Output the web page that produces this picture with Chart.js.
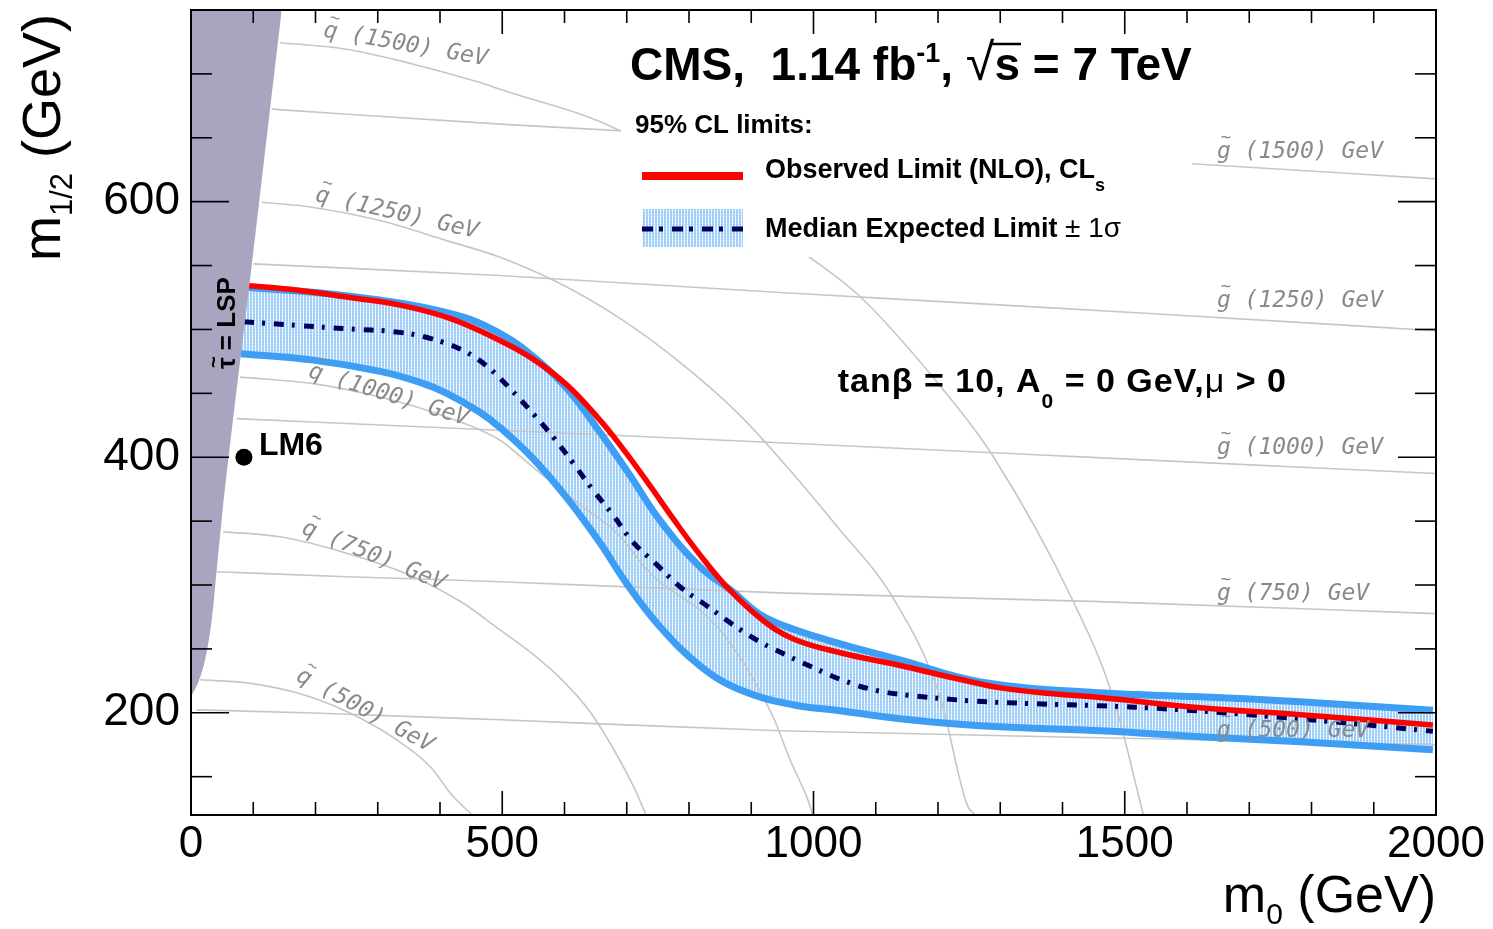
<!DOCTYPE html>
<html>
<head>
<meta charset="utf-8">
<script src="https://cdn.jsdelivr.net/npm/chart.js@4.4.1/dist/chart.umd.min.js"></script>
<style>
  html, body { margin: 0; padding: 0; background: #fff; }
  #wrap { width: 1493px; height: 929px; position: relative; }
</style>
</head>
<body>
<div id="wrap"><canvas id="c"></canvas></div>
<script>
const F = "'Liberation Sans', Arial, Helvetica, sans-serif";
const MONO = "'DejaVu Sans Mono', monospace";

// ---------------- AXES ----------------
const xLabelTicks = [0, 500, 1000, 1500, 2000];
const xMinorTicks = [100, 200, 300, 400, 600, 700, 800, 900, 1100, 1200, 1300, 1400, 1600, 1700, 1800, 1900];
const yLabelTicks = [200, 400, 600];
const yMinorTicks = [150, 250, 300, 350, 450, 500, 550, 650, 700];

// ---------------- LIMIT CURVES (m0, m1/2 in GeV) ----------------
const observedM0  = [85, 175, 255, 336, 416, 496, 549, 604, 657, 694, 737, 774, 818, 861, 914, 967, 1043, 1139, 1236, 1300, 1380, 1460, 1621, 1782, 1995];
const observedM12 = [534.5, 530.5, 525, 519, 508.6, 491.4, 477, 456.5, 429, 406.5, 378, 352.3, 323.4, 298.4, 274.2, 258, 247, 237, 226, 219.5, 215, 212, 204, 198.5, 190.5];

const expectedM0  = [85, 175, 250, 330, 384, 437, 476, 512, 549, 582, 614, 646, 678, 710, 749, 786, 829, 871, 914, 962, 999, 1047, 1096, 1147, 1251, 1359, 1460, 1568, 1700, 1878, 1995];
const expectedM12 = [506, 503, 500.5, 498, 493, 483.6, 471, 454, 434.4, 415.6, 395.3, 374.2, 354.7, 333.6, 315.6, 298.4, 283.6, 268.8, 255.5, 243.8, 235.5, 225.4, 218, 214, 209.4, 207, 205.5, 203, 198.5, 191, 185.5];

const bandUpM0  = [80, 255, 416, 496, 561, 609, 657, 705, 753, 818, 871, 914, 967, 1043, 1139, 1268, 1460, 1621, 1782, 1995];
const bandUpM12 = [533.5, 526, 512.5, 497, 474.2, 450.8, 419.5, 386, 350.8, 314.1, 294.5, 277, 265.5, 254, 241.4, 224.2, 215.6, 212.5, 208.6, 202];

const bandLoM0  = [80, 196, 304, 368, 411, 464, 496, 549, 604, 657, 700, 753, 818, 882, 967, 1043, 1139, 1268, 1460, 1621, 1782, 1995];
const bandLoM12 = [481, 476, 467.2, 458.6, 450, 435.2, 423.4, 399.2, 368, 333, 301, 267.5, 236.7, 218, 206.3, 201.6, 195.3, 189.8, 185.9, 181.3, 177.3, 171];

// stau-LSP excluded region boundary
const stauM0  = [0, 11.2, 22.5, 33.3, 41.3, 49.3, 97.5, 145.7];
const stauM12 = [213, 223.4, 241.4, 272.7, 311.7, 350.8, 550, 750];

// LM6 benchmark
const lm6M0 = [85];
const lm6M12 = [400];

// ---------------- ISO-MASS CONTOURS ----------------
const squark500  = [[14.5, 225.8], [89.5, 223.4], [169.8, 215.6], [250, 201], [330.4, 178.9], [384, 158], [420.9, 134.6], [452, 120]];
const squark750  = [[51.9, 341.6], [143, 337.7], [250.1, 324.8], [357.1, 306.5], [437.4, 285.7], [496.4, 264.8], [544.6, 247.7], [592.8, 227.3], [641, 200.8], [681.1, 169.5], [713.3, 139.8], [731, 120]];
const squark1000 = [[78.7, 462.7], [196, 457.6], [303.6, 447.1], [410.8, 431.5], [496.4, 413.3], [549.4, 392.2], [629.7, 360.9], [684.3, 340.6], [737.3, 309.4], [849.8, 264.8], [935, 196.9], [962.2, 163.3], [989.6, 133.6], [999, 120]];
const squark1250 = [[113.6, 599.5], [196.5, 595.5], [303.6, 585.2], [410.8, 569.5], [496.4, 556.5], [592.8, 535.9], [689.2, 508.6], [785.5, 474.2], [882, 432.8], [962.2, 389.8], [1042.6, 343], [1122.9, 293.8], [1203.2, 212.5], [1246.6, 128.1], [1260, 120]];
const squark1500 = [[143, 724.4], [250.1, 719.3], [357.1, 707.6], [464.3, 693.2], [496.4, 688], [689.2, 655.5], [994.4, 556.3], [1074.7, 525.8], [1208, 453.1], [1288.4, 400.8], [1416.9, 287.5], [1481.1, 212.5], [1530, 120]];
const gluino500  = [[9.2, 202.3], [196.5, 199.8], [496.4, 194.5], [946.2, 185.9], [1621, 178.9], [2000, 175]];
const gluino750  = [[41.3, 310.4], [250.1, 306.5], [496.4, 302.6], [946.2, 293.8], [1460, 287], [2000, 277.6]];
const gluino1000 = [[73.4, 430.2], [496.4, 421.1], [946.2, 411.3], [1540.6, 397.7], [2000, 387.3]];
const gluino1250 = [[100, 551.3], [496.4, 542.2], [946.2, 528.9], [1540.6, 512.5], [2000, 499]];
const gluino1500 = [[129.6, 672.4], [496.4, 660.7], [689.2, 655.5], [1608, 629.7], [2000, 617.8]];

// contour labels (first letter gets a tilde)
const squarkLabels = ['q (1500) GeV', 'q (1250) GeV', 'q (1000) GeV', 'q (750) GeV', 'q (500) GeV'];
const squarkLabelM0 = [345, 331, 318, 294, 280];
const squarkLabelM12 = [723.4, 591.4, 449.2, 323.4, 202.3];
const squarkLabelAngle = [10, 13, 17, 22, 28.5];
const gluinoLabels = ['g (1500) GeV', 'g (1250) GeV', 'g (1000) GeV', 'g (750) GeV', 'g (500) GeV'];
const gluinoLabelM0 = 1648;
const gluinoLabelM12 = [639.8, 522.7, 407.8, 293.8, 186.7];

// ---------------- HELPERS ----------------
const pts = (xs, ys) => xs.map((v, i) => ({ x: v, y: ys[i] }));
const pairs = arr => arr.map(p => ({ x: p[0], y: p[1] }));

// light blue band hatch
function makeBandPattern() {
  const c = document.createElement('canvas');
  c.width = 3; c.height = 3;
  const g = c.getContext('2d');
  g.fillStyle = '#a3d0f8';
  g.fillRect(0, 0, 3, 3);
  g.fillStyle = '#ffffff';
  g.fillRect(0, 0, 1, 2);
  g.fillStyle = '#d3e9fc';
  g.fillRect(0, 2, 1, 1);
  return g.createPattern(c, 'repeat');
}
const bandPattern = makeBandPattern();

function drawRuns(ctx, x, y, runs) {
  for (const r of runs) {
    ctx.font = r.font;
    ctx.fillText(r.t, x, y + (r.dy || 0));
    r.x0 = x;
    x += ctx.measureText(r.t).width;
    r.x1 = x;
  }
  return x;
}

// text whose first glyph carries a tilde, drawn left-aligned from (x, baseline)
function tildeText(ctx, text, x, y, font, tildeFont, lift, shift) {
  ctx.font = font;
  ctx.textAlign = 'left';
  ctx.fillText(text, x, y);
  const cw = ctx.measureText(text[0]).width;
  ctx.font = tildeFont;
  ctx.textAlign = 'center';
  ctx.fillText('~', x + cw / 2 + shift, y - lift);
  ctx.textAlign = 'left';
}

const grayLine = data => ({
  data: pairs(data), borderColor: '#c6c6c6', borderWidth: 1.6, pointRadius: 0,
  fill: false, cubicInterpolationMode: 'monotone', order: 6
});

// ---------------- OVERLAY: texts, legend, frame ----------------
const overlay = {
  id: 'overlay',
  afterDatasetsDraw(chart) {
    const { ctx, scales: { x, y } } = chart;
    const px = v => x.getPixelForValue(v), py = v => y.getPixelForValue(v);
    ctx.save();

    // legend area blanks the contours behind it
    ctx.fillStyle = '#fff';
    ctx.fillRect(621, 95, 571, 162);

    // contour labels
    ctx.fillStyle = '#8a8a8a';
    ctx.textBaseline = 'alphabetic';
    const labFont = 'italic 23px ' + MONO;
    const tilFont = 'italic 17px ' + MONO;
    gluinoLabels.forEach((t, i) =>
      tildeText(ctx, t, px(gluinoLabelM0), py(gluinoLabelM12[i]) + 7, labFont, tilFont, 15, 2));
    squarkLabels.forEach((t, i) => {
      ctx.save();
      ctx.translate(px(squarkLabelM0[i]), py(squarkLabelM12[i]));
      ctx.rotate(squarkLabelAngle[i] * Math.PI / 180);
      ctx.font = labFont;
      const w = ctx.measureText(t).width;
      tildeText(ctx, t, -w / 2, 7, labFont, tilFont, 15, 2);
      ctx.restore();
    });

    // stau = LSP
    ctx.fillStyle = '#000';
    ctx.save();
    ctx.translate(px(56) + 9, py(505));
    ctx.rotate(-Math.PI / 2);
    ctx.font = 'bold 26px ' + F;
    const sw = ctx.measureText('\u03C4 = LSP').width;
    tildeText(ctx, '\u03C4 = LSP', -sw / 2, 0, 'bold 26px ' + F, 'bold 20px ' + F, 15, 1);
    ctx.restore();

    // LM6
    ctx.textAlign = 'left';
    ctx.textBaseline = 'middle';
    ctx.font = 'bold 32px ' + F;
    ctx.fillText('LM6', px(lm6M0[0]) + 15, py(lm6M12[0]) - 11);

    // model parameters
    ctx.textBaseline = 'alphabetic';
    ctx.letterSpacing = '1px';
    const bold34 = 'bold 34px ' + F;
    drawRuns(ctx, px(1039), py(450.8), [
      { t: 'tan\u03B2 = 10, A', font: bold34 },
      { t: '0', font: 'bold 21px ' + F, dy: 16 },
      { t: ' = 0 GeV,', font: bold34 },
      { t: '\u03BC', font: '34px ' + F },
      { t: ' > 0', font: bold34 }
    ]);
    ctx.letterSpacing = '0px';

    // title
    const bold46 = 'bold 46px ' + F;
    const runs = [
      { t: 'CMS,  1.14 fb', font: bold46 },
      { t: '-1', font: 'bold 27px ' + F, dy: -18 },
      { t: ', ', font: bold46 },
      { t: '\u221A', font: '52px ' + F },
      { t: 's', font: bold46 },
      { t: ' = 7 TeV', font: bold46 }
    ];
    drawRuns(ctx, 630, 80, runs);
    ctx.strokeStyle = '#000';
    ctx.lineWidth = 2.5;
    ctx.beginPath();
    ctx.moveTo(runs[3].x1 - 3, 44);
    ctx.lineTo(runs[4].x1 + 1, 44);
    ctx.stroke();

    // legend
    ctx.font = 'bold 26px ' + F;
    ctx.fillText('95% CL limits:', 635, 133);
    ctx.strokeStyle = '#ff0000';
    ctx.lineWidth = 8;
    ctx.beginPath();
    ctx.moveTo(642, 176); ctx.lineTo(743, 176);
    ctx.stroke();
    drawRuns(ctx, 765, 178, [
      { t: 'Observed Limit (NLO), CL', font: 'bold 27px ' + F },
      { t: 's', font: 'bold 18px ' + F, dy: 13 }
    ]);
    ctx.fillStyle = bandPattern;
    ctx.fillRect(642, 209, 101, 38);
    ctx.strokeStyle = '#00005a';
    ctx.lineWidth = 5;
    ctx.setLineDash([11, 6, 4, 9]);
    ctx.beginPath();
    ctx.moveTo(642, 229); ctx.lineTo(743, 229);
    ctx.stroke();
    ctx.setLineDash([]);
    ctx.fillStyle = '#000';
    drawRuns(ctx, 765, 237, [
      { t: 'Median Expected Limit ', font: 'bold 27px ' + F },
      { t: '\u00B1 1\u03C3', font: '28px ' + F }
    ]);

    ctx.restore();
  },
  afterDraw(chart) {
    const { ctx, chartArea: a, scales: { x, y } } = chart;
    ctx.save();
    ctx.strokeStyle = '#000';
    ctx.lineWidth = 2;
    ctx.strokeRect(a.left, a.top, a.right - a.left, a.bottom - a.top);

    ctx.lineWidth = 1.6;
    const seg = (x1, y1, x2, y2) => { ctx.beginPath(); ctx.moveTo(x1, y1); ctx.lineTo(x2, y2); ctx.stroke(); };
    const xt = (v, len) => {
      const p = x.getPixelForValue(v);
      seg(p, a.bottom, p, a.bottom - len);
      seg(p, a.top, p, a.top + len);
    };
    const yt = (v, len) => {
      const p = y.getPixelForValue(v);
      seg(a.left, p, a.left + len, p);
      seg(a.right, p, a.right - len, p);
    };
    xLabelTicks.forEach(v => xt(v, 24));
    xMinorTicks.forEach(v => xt(v, 13));
    yLabelTicks.forEach(v => yt(v, 38));
    yMinorTicks.forEach(v => yt(v, 21));

    // axis titles
    ctx.fillStyle = '#000';
    ctx.textBaseline = 'alphabetic';
    ctx.textAlign = 'left';
    const t52 = '52px ' + F;
    const xRuns = [
      { t: 'm', font: t52 },
      { t: '0', font: '30px ' + F, dy: 12 },
      { t: ' (GeV)', font: t52 }
    ];
    let w = 0;
    xRuns.forEach(r => { ctx.font = r.font; w += ctx.measureText(r.t).width; });
    drawRuns(ctx, a.right - w, 912, xRuns);

    const t54 = '54px ' + F;
    ctx.save();
    ctx.translate(60, 261);
    ctx.rotate(-Math.PI / 2);
    drawRuns(ctx, 0, 0, [
      { t: 'm', font: t54 },
      { t: '1/2', font: '31px ' + F, dy: 12 },
      { t: ' (GeV)', font: t54 }
    ]);
    ctx.restore();
    ctx.restore();
  }
};

// ---------------- CHART ----------------
new Chart(document.getElementById('c'), {
  type: 'line',
  data: {
    datasets: [
      { // 0 LM6
        data: pts(lm6M0, lm6M12), showLine: false, pointRadius: 8.5, pointBackgroundColor: '#000',
        pointBorderWidth: 0, order: 0
      },
      { // 1 stau LSP region
        data: pts(stauM0, stauM12), borderWidth: 0, pointRadius: 0, fill: 'end',
        backgroundColor: '#a9a5c0', cubicInterpolationMode: 'monotone', order: 1
      },
      { // 2 observed
        data: pts(observedM0, observedM12), borderColor: '#ff0000', borderWidth: 5.5, pointRadius: 0,
        fill: false, tension: 0.4, order: 2
      },
      { // 3 expected median
        data: pts(expectedM0, expectedM12), borderColor: '#00005a', borderWidth: 5, pointRadius: 0,
        borderDash: [10, 8, 3, 9], fill: false, tension: 0.4, order: 3
      },
      { // 4 band upper edge
        data: pts(bandUpM0, bandUpM12), borderColor: '#3e9ef3', borderWidth: 7, pointRadius: 0,
        fill: false, tension: 0.4, order: 4
      },
      { // 5 band lower edge
        data: pts(bandLoM0, bandLoM12), borderColor: '#3e9ef3', borderWidth: 7, pointRadius: 0,
        fill: false, tension: 0.4, order: 4
      },
      { // 6 band fill
        data: pts(bandLoM0, bandLoM12), borderWidth: 0, pointRadius: 0,
        fill: { target: 4 }, backgroundColor: bandPattern, tension: 0.4, order: 9
      },
      grayLine(squark500), grayLine(squark750), grayLine(squark1000), grayLine(squark1250), grayLine(squark1500),
      grayLine(gluino500), grayLine(gluino750), grayLine(gluino1000), grayLine(gluino1250), grayLine(gluino1500)
    ]
  },
  options: {
    responsive: true,
    maintainAspectRatio: false,
    animation: false,
    layout: { padding: { top: 10, right: 57, left: 0, bottom: 0 } },
    plugins: { legend: { display: false }, tooltip: { enabled: false } },
    scales: {
      x: {
        type: 'linear', min: 0, max: 2000,
        grid: { display: false, drawTicks: false },
        border: { display: false },
        afterBuildTicks: s => { s.ticks = xLabelTicks.map(v => ({ value: v })); },
        afterFit: s => { s.height = 114; s.paddingLeft = 0; s.paddingRight = 0; },
        ticks: { font: { family: F, size: 44 }, color: '#000', padding: 3, maxRotation: 0, autoSkip: false,
                 callback: v => String(v) }
      },
      y: {
        type: 'linear', min: 120, max: 750,
        grid: { display: false, drawTicks: false },
        border: { display: false },
        afterBuildTicks: s => { s.ticks = yLabelTicks.map(v => ({ value: v })); },
        afterFit: s => { s.width = 191; s.paddingTop = 0; s.paddingBottom = 0; },
        ticks: { font: { family: F, size: 46 }, color: '#000', padding: 11, autoSkip: false,
                 callback: v => String(v) }
      }
    }
  },
  plugins: [overlay]
});
</script>
</body>
</html>
